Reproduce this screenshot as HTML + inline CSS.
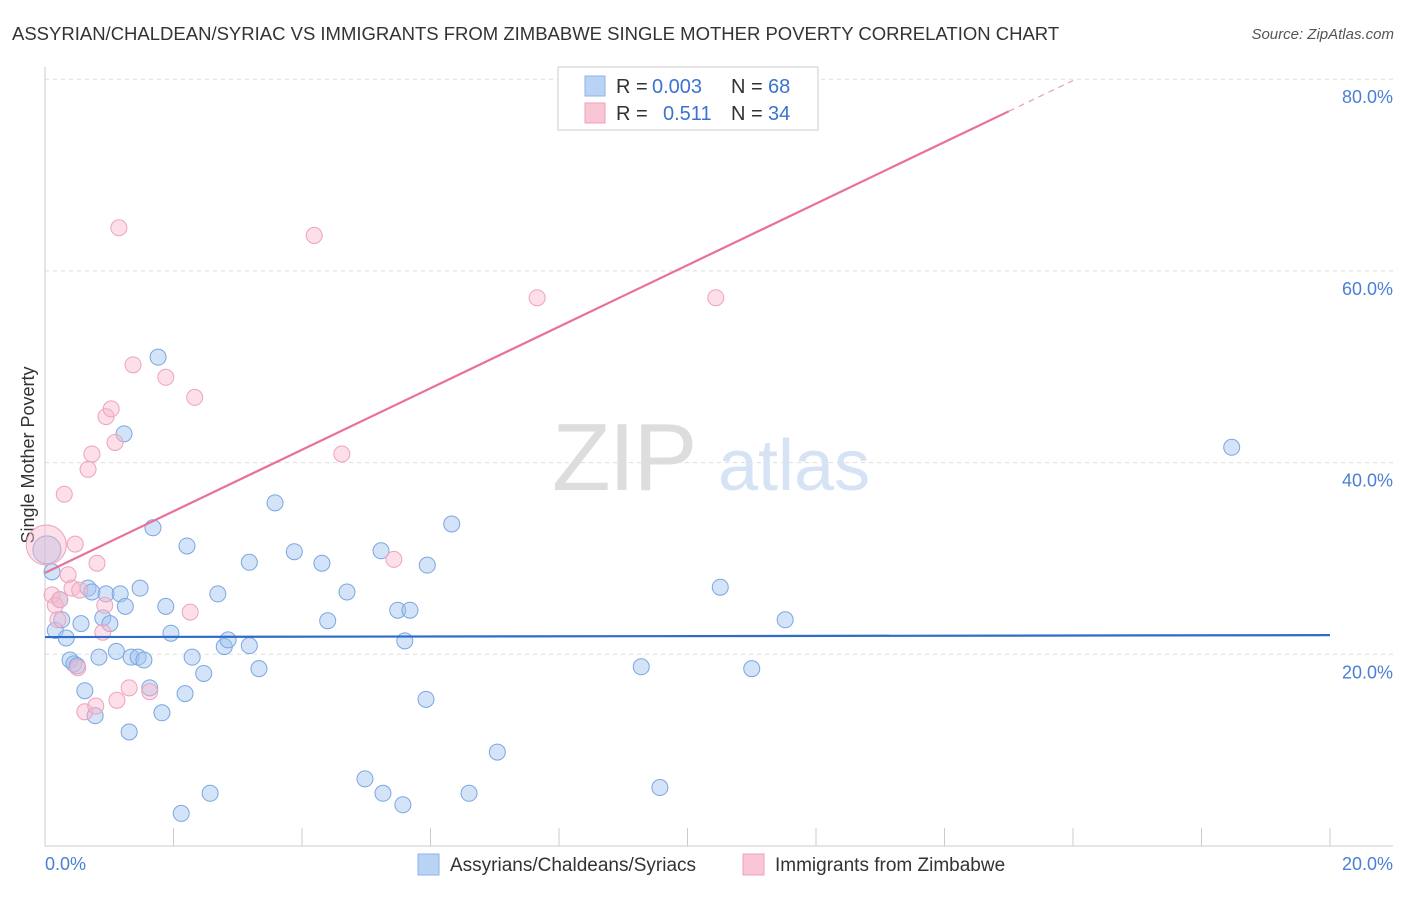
<!DOCTYPE html>
<html><head><meta charset="utf-8"><style>
body{margin:0;background:#fff;font-family:"Liberation Sans",sans-serif;}
svg text{font-family:"Liberation Sans",sans-serif;}
</style></head><body>
<svg id="chart" width="1406" height="892" xmlns="http://www.w3.org/2000/svg">
<text x="12" y="40" font-size="18.5" fill="#333">ASSYRIAN/CHALDEAN/SYRIAC VS IMMIGRANTS FROM ZIMBABWE SINGLE MOTHER POVERTY CORRELATION CHART</text>
<text x="1394" y="39" font-size="15" fill="#555" font-style="italic" text-anchor="end">Source: ZipAtlas.com</text>
<g id="grid"></g>
<text x="552" y="490" font-size="96" fill="#ddd" font-family="Liberation Serif" letter-spacing="-2">ZIP</text>
<text x="718" y="490" font-size="72" fill="#d6e3f5">atlas</text>
<text transform="translate(34,455) rotate(-90)" font-size="18" fill="#333" text-anchor="middle">Single Mother Poverty</text>
<g id="marks"></g>
<g>
<rect x="558" y="67" width="260" height="63" fill="#fff" stroke="#ccc"/>
<rect x="585" y="76" width="20" height="20" fill="#b9d3f5" stroke="#8fb3e6"/>
<rect x="585" y="103" width="20" height="20" fill="#f9c6d6" stroke="#eea3bb"/>
<text x="616" y="93" font-size="20" fill="#333">R =</text>
<text x="652" y="93" font-size="20" fill="#3b73d0">0.003</text>
<text x="731" y="93" font-size="20" fill="#333">N =</text>
<text x="768" y="93" font-size="20" fill="#3b73d0">68</text>
<text x="616" y="120" font-size="20" fill="#333">R =</text>
<text x="663" y="120" font-size="20" fill="#3b73d0">0.511</text>
<text x="731" y="120" font-size="20" fill="#333">N =</text>
<text x="768" y="120" font-size="20" fill="#3b73d0">34</text>
</g>
<text x="45" y="870" font-size="18" fill="#4a7fd4">0.0%</text>
<text x="1393" y="870" font-size="18" fill="#4a7fd4" text-anchor="end">20.0%</text>
<g>
<rect x="418" y="854" width="21" height="21" fill="#b9d3f5" stroke="#8fb3e6"/>
<text x="450" y="871" font-size="19" fill="#333">Assyrians/Chaldeans/Syriacs</text>
<rect x="743" y="854" width="21" height="21" fill="#f9c6d6" stroke="#eea3bb"/>
<text x="775" y="871" font-size="19" fill="#333">Immigrants from Zimbabwe</text>
</g>
</svg>
<script>
const yTicks=[20,40,60,80];
const blueX=[0.11,0.16,0.23,0.26,0.33,0.39,0.45,0.50,0.56,0.62,0.67,0.73,0.78,0.84,0.90,0.95,1.01,1.11,1.17,1.25,1.23,1.31,1.34,1.45,1.48,1.54,1.63,1.68,1.76,1.82,1.88,1.96,2.18,2.21,2.29,2.47,2.57,2.69,2.79,2.85,3.18,3.18,3.33,3.58,3.88,4.31,4.40,4.70,4.98,5.23,5.26,5.49,5.57,5.60,5.68,5.93,5.95,6.33,6.60,7.04,9.28,9.57,10.51,11.00,11.52,18.47,2.12,0.03];
const blueY=[28.6,22.5,25.7,23.6,21.7,19.4,19.0,18.8,23.2,16.2,26.9,26.5,13.6,19.7,23.8,26.3,23.2,20.3,26.3,25.0,43.0,11.9,19.7,19.7,26.9,19.4,16.5,33.2,51.0,13.9,25.0,22.2,15.9,31.3,19.7,18.0,5.5,26.3,20.8,21.5,20.9,29.6,18.5,35.8,30.7,29.5,23.5,26.5,7.0,30.8,5.5,24.6,4.3,21.4,24.6,15.3,29.3,33.6,5.5,9.8,18.7,6.1,27.0,18.5,23.6,41.6,3.4,30.9];
const pinkX=[0.02,0.11,0.16,0.20,0.23,0.30,0.36,0.42,0.47,0.54,0.62,0.67,0.73,0.79,0.81,0.90,0.93,0.95,1.03,1.09,1.12,1.15,1.31,1.37,1.63,1.88,2.26,2.33,4.19,4.62,5.43,7.66,10.44,0.51];
const pinkY=[31.4,26.2,25.1,23.6,25.7,36.7,28.3,26.9,31.5,26.7,14.0,39.3,40.9,14.6,29.5,22.3,25.1,44.8,45.6,42.1,15.2,64.5,16.5,50.2,16.1,48.9,24.4,46.8,63.7,40.9,29.9,57.2,57.2,18.6];
const blueTrend=[21.8,22.0];
const pinkTrend=[28.5,3.21];
const NS="http://www.w3.org/2000/svg";
const sx=v=>45+v*64.25, sy=v=>846-v*9.585;
function mk(t,a,p){const e=document.createElementNS(NS,t);for(const k in a)e.setAttribute(k,a[k]);p.appendChild(e);return e;}
const grid=document.getElementById('grid'),marks=document.getElementById('marks');
yTicks.forEach(t=>{
 const l=mk('line',{x1:45,x2:1393,y1:sy(t),y2:sy(t),stroke:'#ddd','stroke-dasharray':'4,4'},grid);
 
 
 const tx=mk('text',{x:1393,y:sy(t)+24,'font-size':18,fill:'#4a7fd4','text-anchor':'end'},grid);
 tx.textContent=t.toFixed(1)+'%';
 
 
});
const ax=mk('line',{x1:45,x2:45,y1:67,y2:846,stroke:'#ccc'},grid);


const bx=mk('line',{x1:45,x2:1393,y1:846,y2:846,stroke:'#ccc'},grid);


for(let i=0;i<=10;i++){const tk=mk('line',{x1:sx(i*2),x2:sx(i*2),y1:828,y2:846,stroke:'#ccc'},grid);
 
 }
blueX.forEach((x,i)=>{const r=i==blueX.length-1?14:8;
 const c=mk('circle',{cx:sx(x),cy:sy(blueY[i]),r:r,fill:'rgba(160,195,240,0.45)',stroke:'#7aa6e0','stroke-width':1},marks);
 
 });
pinkX.forEach((x,i)=>{const r=i==0?20:8;
 const c=mk('circle',{cx:sx(x),cy:sy(pinkY[i]),r:r,fill:'rgba(248,185,205,0.45)',stroke:'#eea3bb','stroke-width':1},marks);
 
 });
const bl=mk('line',{x1:sx(0),y1:sy(blueTrend[0]),x2:sx(20),y2:sy(blueTrend[1]),stroke:'#2d6cc8','stroke-width':2.2},marks);


const pl=mk('line',{x1:sx(0),y1:sy(pinkTrend[0]),x2:sx(15),y2:sy(pinkTrend[0]+pinkTrend[1]*15),stroke:'#e8709a','stroke-width':2.2},marks);


const pd=mk('line',{x1:sx(15),y1:sy(pinkTrend[0]+pinkTrend[1]*15),x2:sx(16),y2:sy(pinkTrend[0]+pinkTrend[1]*16),stroke:'#e8a0b8','stroke-width':1.2,'stroke-dasharray':'6,5'},marks);


</script>
</body></html>
